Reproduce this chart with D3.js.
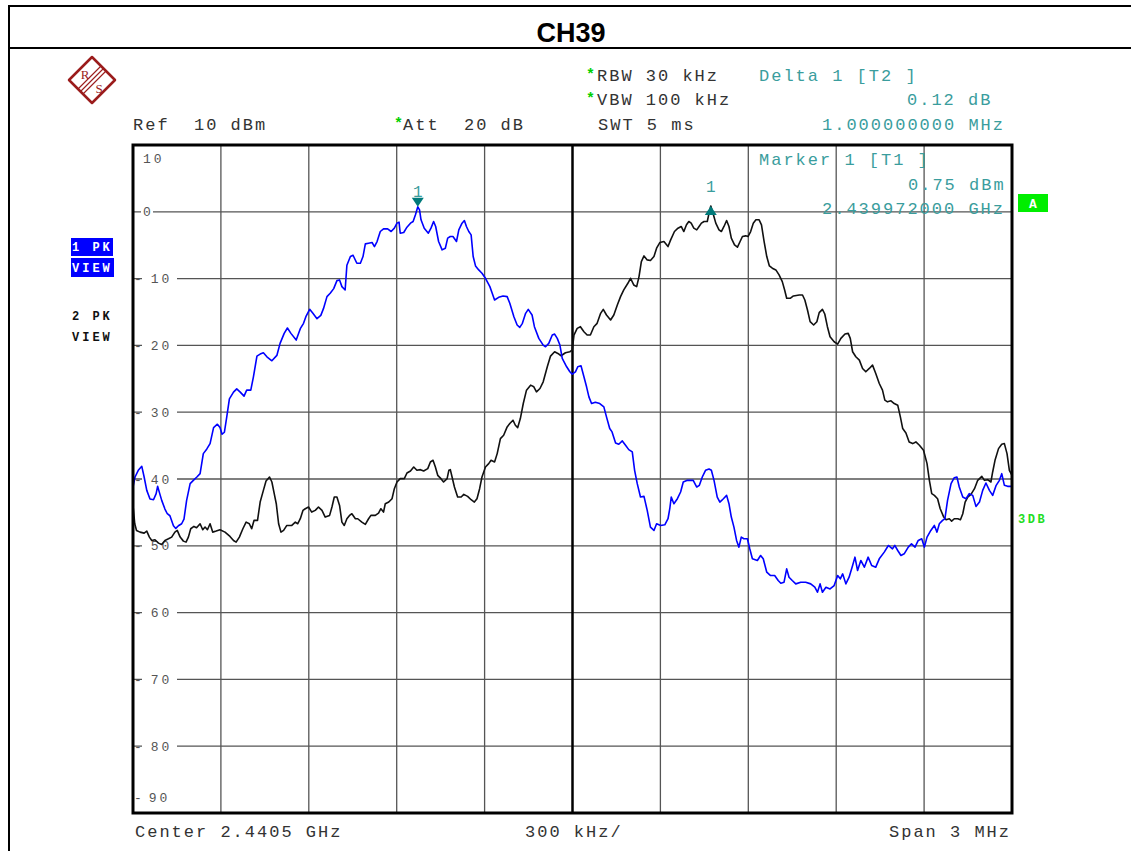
<!DOCTYPE html>
<html><head><meta charset="utf-8">
<script src="https://cdn.jsdelivr.net/npm/d3@7"></script>
<style>body{margin:0;background:#fff} text{white-space:pre}</style>
</head><body>
<svg id="c" width="1131" height="851"></svg>
<script>
// ---------- data ----------
const title = "CH39";
const levelTicks = [10, 0, -10, -20, -30, -40, -50, -60, -70, -80, -90];   // dBm
const freqGridKHz = [0, 300, 600, 900, 1200, 1500, 1800, 2100, 2400, 2700, 3000]; // offset from start (2.439 GHz)
// Trace 1 (blue), [offset kHz from 2.439 GHz, level dBm]
const traceT1 = [[0,-41.2],[7,-39.7],[18,-38.7],[30,-38.1],[38,-39.7],[47,-41.7],[58,-43.0],[70,-43.1],[79,-42.2],[84,-41.1],
[90,-42.0],[98,-43.2],[109,-44.5],[117,-45.2],[126,-45.5],[138,-47.0],[146,-47.4],[155,-47.0],[166,-46.7],[174,-46.0],
[183,-43.2],[195,-40.7],[206,-40.2],[218,-39.7],[229,-39.2],[240,-36.2],[252,-35.5],[263,-34.7],[275,-32.3],[288,-31.8],
[297,-32.3],[304,-33.3],[312,-33.0],[320,-30.7],[329,-28.0],[343,-27.0],[354,-26.5],[366,-27.0],[379,-27.6],[388,-26.7],
[402,-26.7],[411,-24.7],[423,-21.6],[434,-21.3],[445,-21.1],[457,-21.7],[474,-22.3],[491,-21.5],[502,-19.7],[516,-18.2],
[527,-17.4],[539,-18.2],[557,-19.2],[571,-17.5],[582,-16.7],[590,-15.7],[603,-14.6],[614,-15.2],[628,-16.0],[641,-15.5],
[650,-14.5],[662,-12.7],[673,-12.2],[685,-11.5],[696,-10.3],[705,-10.2],[713,-11.2],[724,-11.7],[730,-8.0],[742,-6.7],[751,-6.5],
[764,-7.7],[776,-7.7],[785,-6.7],[793,-4.8],[804,-4.7],[816,-4.6],[824,-5.2],[833,-4.45],[844,-2.95],[855,-2.55],
[869,-2.55],[881,-2.95],[892,-2.45],[901,-1.7],[908,-1.55],[912,-3.2],[924,-3.1],[935,-2.3],[947,-1.7],[956,-1.45],
[964,-0.45],[972,0.75],[978,0.3],[983,-1.2],[994,-2.45],[1008,-3.2],[1017,-2.45],[1026,-1.45],[1033,-2.2],[1043,-4.45],
[1055,-5.7],[1066,-5.45],[1074,-3.95],[1083,-3.7],[1092,-3.7],[1104,-4.45],[1112,-2.7],[1123,-1.7],[1131,-1.3],[1138,-2.2],
[1146,-2.95],[1154,-3.45],[1161,-6.7],[1169,-8.1],[1180,-8.7],[1191,-9.2],[1203,-9.95],[1218,-11.2],[1226,-12.2],[1234,-13.2],
[1248,-12.8],[1263,-12.6],[1277,-12.7],[1286,-13.7],[1300,-15.7],[1311,-16.95],[1320,-17.3],[1329,-16.7],[1340,-15.2],[1349,-14.6],
[1362,-15.45],[1370,-17.2],[1385,-18.95],[1400,-19.95],[1408,-20.2],[1419,-19.7],[1431,-18.45],[1439,-18.3],[1448,-18.95],[1457,-19.95],
[1465,-21.95],[1480,-23.2],[1491,-23.95],[1499,-24.3],[1510,-23.95],
[1518,-23.2],[1529,-23.05],[1539,-24.7],[1548,-26.2],[1556,-27.7],[1565,-28.7],[1578,-28.5],[1593,-28.7],[1607,-29.2],[1616,-30.7],
[1627,-32.45],[1635,-32.95],[1647,-34.6],[1658,-34.8],[1670,-34.3],[1681,-34.95],[1692,-35.6],[1704,-35.95],[1712,-38.7],[1721,-40.7],
[1732,-42.7],[1744,-42.6],[1755,-44.7],[1766,-47.2],[1778,-47.7],[1787,-46.7],[1801,-46.95],[1815,-46.85],[1826,-45.95],[1832,-44.45],
[1837,-42.7],[1846,-43.7],[1858,-42.95],[1869,-41.95],[1878,-40.45],[1892,-40.2],[1912,-40.2],[1924,-41.2],[1933,-40.95],[1943,-39.7],
[1954,-38.7],[1966,-38.5],[1974,-38.7],[1983,-40.2],[1994,-42.7],[2003,-43.45],[2015,-42.95],[2026,-42.45],[2034,-43.7],[2042,-45.7],
[2051,-47.2],[2060,-49.2],[2068,-50.2],[2076,-48.7],[2085,-48.95],[2097,-48.95],[2105,-50.45],[2114,-51.95],[2131,-52.2],[2142,-51.45],
[2151,-51.95],[2163,-53.95],[2176,-54.45],[2190,-54.45],[2202,-55.2],[2211,-55.6],[2222,-55.45],[2231,-53.45],[2239,-54.7],[2250,-55.2],[2262,-55.7],
[2279,-55.45],[2296,-55.45],[2313,-55.7],[2327,-56.2],[2336,-56.95],[2345,-55.7],[2353,-56.95],[2365,-56.2],[2379,-56.45],[2393,-55.95],
[2405,-54.45],[2414,-54.95],[2422,-54.2],[2433,-55.7],[2444,-54.7],[2456,-52.95],[2464,-51.7],[2473,-53.7],[2484,-52.2],[2496,-53.2],
[2509,-51.7],[2521,-52.95],[2535,-53.2],[2547,-51.95],[2564,-50.95],[2578,-49.95],[2592,-50.45],[2600,-49.95],[2610,-50.7],[2621,-51.45],
[2632,-51.2],[2646,-50.2],[2657,-49.7],[2669,-50.2],[2680,-49.2],[2692,-48.95],[2701,-50.2],[2710,-48.7],[2723,-47.7],[2735,-46.95],
[2744,-47.95],[2752,-46.7],[2763,-46.2],[2771,-45.95],[2780,-43.2],[2792,-40.7],[2803,-39.8],[2812,-39.7],[2820,-41.2],[2832,-42.7],
[2843,-42.95],[2854,-42.2],[2866,-42.45],[2877,-44.1],[2889,-43.45],[2900,-41.7],[2911,-40.6],[2923,-41.7],[2934,-42.45],[2946,-40.95],
[2957,-40.2],[2965,-39.2],[2974,-40.95],[2985,-41.1],[3000,-41.1]];
// Trace 2 (black)
const traceT2 = [[0,-43.95],[6,-46.7],[12,-47.7],[24,-47.95],[38,-48.1],[47,-47.8],[56,-48.7],[64,-49.2],[75,-49.1],[87,-49.6],
[98,-49.8],[109,-49.2],[121,-48.95],[132,-48.7],[143,-47.95],[151,-47.7],[161,-48.7],[172,-49.3],[181,-49.45],[189,-48.7],
[197,-47.45],[208,-47.1],[217,-47.3],[229,-46.7],[238,-47.6],[246,-47.2],[254,-47.6],[263,-46.7],[272,-47.95],[284,-47.8],
[297,-47.6],[314,-47.95],[331,-48.6],[343,-49.2],[352,-49.45],[363,-48.7],[375,-47.45],[386,-46.45],[397,-46.7],[405,-47.45],
[413,-46.2],[425,-46.2],[434,-43.45],[445,-41.7],[454,-40.3],[466,-39.7],[474,-40.45],[482,-42.2],[489,-43.7],[497,-46.7],
[505,-47.95],[514,-47.7],[525,-46.95],[542,-46.95],[554,-46.45],[562,-46.7],[571,-45.95],[580,-44.7],[588,-44.45],[599,-44.2],
[610,-44.95],[622,-44.7],[633,-44.2],[645,-44.7],[656,-45.7],[671,-45.45],[679,-44.2],[687,-42.7],[696,-42.7],[705,-43.95],
[713,-46.45],[721,-46.95],[730,-45.95],[739,-45.45],[747,-45.2],[759,-45.95],
[767,-45.95],[781,-46.45],[793,-46.8],[804,-45.95],[812,-45.45],[827,-45.45],[838,-45.1],[846,-44.45],[855,-44.95],[861,-43.7],
[873,-43.45],[884,-42.95],[892,-41.45],[901,-40.45],[912,-39.95],[926,-39.95],[935,-39.1],[947,-38.8],[958,-38.2],[969,-38.7],
[981,-38.6],[992,-38.8],[1006,-38.45],[1015,-37.45],[1024,-37.2],[1032,-38.2],[1040,-39.45],[1051,-39.95],[1060,-40.45],[1072,-39.95],
[1078,-38.7],[1083,-38.6],[1089,-39.7],[1097,-41.2],[1108,-42.7],[1120,-42.7],[1129,-42.3],[1142,-42.6],[1154,-43.1],[1165,-43.45],
[1174,-42.95],[1183,-41.45],[1191,-39.7],[1203,-38.2],[1214,-37.7],[1222,-37.2],[1234,-37.45],[1243,-36.2],[1254,-33.95],[1265,-33.45],
[1277,-32.2],[1286,-31.7],[1297,-31.2],[1305,-31.95],[1313,-32.3],[1322,-30.95],[1332,-28.7],[1343,-26.7],[1357,-25.95],[1368,-26.2],
[1377,-26.95],[1389,-26.45],[1400,-25.45],[1414,-23.2],[1425,-21.6],[1439,-20.95],[1450,-21.2],[1461,-21.55],[1476,-21.1],[1491,-20.95],
[1499,-20.7],[1505,-18.45],
[1516,-17.45],[1527,-17.2],[1539,-17.95],[1550,-18.45],[1561,-18.45],[1573,-17.2],[1584,-16.7],[1596,-15.2],[1605,-14.6],[1616,-15.45],
[1630,-16.2],[1641,-15.45],[1653,-13.95],[1664,-12.7],[1675,-11.7],[1689,-10.7],[1698,-9.95],[1709,-10.95],[1719,-11.2],[1727,-9.7],
[1735,-7.45],[1744,-6.6],[1755,-7.2],[1766,-7.3],[1778,-6.7],[1787,-5.45],[1798,-4.6],[1812,-4.45],[1826,-5.2],[1835,-4.2],
[1848,-2.95],[1860,-2.45],[1871,-2.2],[1880,-2.95],[1889,-1.95],[1897,-1.45],[1905,-1.7],[1914,-2.45],[1924,-2.7],[1932,-2.2],
[1940,-1.7],[1949,-1.45],[1960,-1.45],[1966,-0.2],[1972,0.87],[1981,-0.45],[1989,-1.7],[2000,-2.7],[2008,-2.95],[2017,-2.2],
[2026,-1.3],[2034,-2.2],[2042,-3.95],[2053,-4.95],[2063,-5.3],[2072,-4.45],[2080,-3.7],[2091,-3.6],[2099,-3.7],[2108,-2.95],
[2117,-1.7],[2126,-1.2],[2137,-1.2],[2145,-1.95],[2154,-4.45],[2163,-6.7],[2172,-8.1],[2182,-8.45],[2194,-8.7],[2205,-9.45],
[2216,-10.45],[2224,-11.7],[2231,-12.95],[2243,-12.95],[2254,-12.6],
[2274,-12.45],[2285,-12.45],[2293,-13.2],[2302,-14.7],[2311,-16.45],[2323,-16.95],[2334,-16.45],[2342,-15.1],[2353,-14.6],[2361,-15.3],
[2370,-17.2],[2379,-18.7],[2393,-19.45],[2405,-19.8],[2416,-18.95],[2430,-18.3],[2441,-18.2],[2448,-18.95],[2456,-20.95],[2467,-21.7],
[2479,-22.2],[2490,-23.45],[2501,-23.95],[2513,-23.45],[2524,-22.95],[2535,-24.2],[2547,-25.7],[2558,-26.7],[2566,-28.2],[2575,-28.45],
[2587,-28.3],[2598,-28.7],[2610,-28.95],[2619,-30.7],[2627,-32.45],[2638,-33.1],[2649,-34.45],[2661,-34.7],[2672,-34.45],[2684,-34.95],
[2698,-35.7],[2710,-37.7],[2718,-40.2],[2726,-42.2],[2735,-42.45],[2746,-42.95],[2755,-44.45],[2767,-45.7],[2775,-46.1],[2786,-45.95],
[2794,-46.3],[2803,-45.95],[2815,-45.95],[2824,-46.1],[2832,-45.2],[2840,-43.45],[2849,-42.7],[2860,-42.3],[2872,-41.45],[2883,-40.2],
[2897,-39.6],[2906,-40.2],[2917,-40.1],[2928,-40.45],[2934,-38.95],[2942,-37.2],[2954,-35.45],[2965,-34.8],[2974,-34.7],[2983,-36.2],
[2991,-38.7],[3000,-39.45]];
const markerFreqKHz = [972, 1972];
const markerLevel = [0.75, 0.87];
const markerDir = ["down", "up"];
const settingsLeft = ["RBW 30 kHz", "VBW 100 kHz", "SWT 5 ms"];
const settingsStar = [true, true, false];
const deltaInfo = ["Delta 1 [T2 ]", "0.12 dB", "1.000000000 MHz"];
const markerInfo = ["Marker 1 [T1 ]", "0.75 dBm", "2.439972000 GHz"];
const bottomLabels = ["Center 2.4405 GHz", "300 kHz/", "Span 3 MHz"];

// ---------- drawing ----------
const svg = d3.select("#c");
const L = 133, R = 1012, T = 145, B = 813;
const x = d3.scaleLinear().domain([0, 3000]).range([L, R]);
const y = d3.scaleLinear().domain([-90, 10]).range([B, T]);
const MONO = "'Liberation Mono', 'DejaVu Sans Mono', monospace";
const teal = "#3a9d9d";

// outer frame
svg.append("line").attr("x1", 9).attr("x2", 1131).attr("y1", 6).attr("y2", 6).attr("stroke", "#000").attr("stroke-width", 2);
svg.append("line").attr("x1", 9).attr("x2", 1131).attr("y1", 48).attr("y2", 48).attr("stroke", "#000").attr("stroke-width", 2);
svg.append("line").attr("x1", 9).attr("x2", 9).attr("y1", 5).attr("y2", 851).attr("stroke", "#000").attr("stroke-width", 2);
svg.append("text").attr("x", 571).attr("y", 42).attr("text-anchor", "middle")
  .attr("font-family", "'Liberation Sans', Arial, sans-serif").attr("font-weight", "bold").attr("font-size", 27).text(title);

// logo
const lg = svg.append("g").attr("transform", "translate(92,80)");
lg.append("path").attr("d", "M0,-23L23,0L0,23L-23,0Z").attr("fill", "#fff").attr("stroke", "#9b1c1c").attr("stroke-width", 2.5).attr("stroke-linejoin", "round");
[-2.5, 0, 2.5].forEach(o => lg.append("line").attr("x1", 11.5 + o).attr("y1", -11.5 + o).attr("x2", -11.5 + o).attr("y2", 11.5 + o)
  .attr("stroke", "#9b1c1c").attr("stroke-width", 1.1));
lg.append("text").attr("x", -7).attr("y", -1).attr("text-anchor", "middle").attr("font-family", "'Liberation Serif', serif").attr("font-size", 13).attr("fill", "#9b1c1c").text("R");
lg.append("text").attr("x", 7).attr("y", 13).attr("text-anchor", "middle").attr("font-family", "'Liberation Serif', serif").attr("font-size", 13).attr("fill", "#9b1c1c").text("S");

// header texts
function mono(xp, yp, s, fill, opts = {}) {
  return svg.append("text").attr("x", xp).attr("y", yp).attr("font-family", MONO)
    .attr("font-size", opts.size || 17).attr("letter-spacing", opts.ls !== undefined ? opts.ls : 2)
    .attr("font-weight", opts.weight || "normal").attr("fill", fill).text(s);
}
function star(xp, yp) {
  svg.append("text").attr("x", xp).attr("y", yp).attr("font-family", MONO).attr("font-size", 15).attr("font-weight", "bold").attr("fill", "#00d000").text("*");
}
const rowY = [81, 105, 130];
settingsLeft.forEach((s, i) => {
  if (settingsStar[i]) star(586, rowY[i] - 2);
  mono(i === 2 ? 598 : 597, rowY[i], s, "#333");
});
mono(133, 130, "Ref  10 dBm", "#333");
star(394, 128);
mono(403, 130, "Att  20 dB", "#333");
mono(759, rowY[0], deltaInfo[0], teal);
mono(907, rowY[1], deltaInfo[1], teal);
mono(822, rowY[2], deltaInfo[2], teal);

// grid
const grid = svg.append("g");
grid.selectAll("line.h").data(levelTicks).join("line").attr("class", "h")
  .attr("x1", L).attr("x2", R).attr("y1", d => y(d)).attr("y2", d => y(d))
  .attr("stroke", "#555").attr("stroke-width", 1.3);
grid.selectAll("line.v").data(freqGridKHz).join("line").attr("class", "v")
  .attr("x1", d => x(d)).attr("x2", d => x(d)).attr("y1", T).attr("y2", B)
  .attr("stroke", d => d === 1500 ? "#000" : "#555").attr("stroke-width", d => d === 1500 ? 2.5 : 1.3);

// level labels
levelTicks.forEach(v => {
  const s = String(v);
  if (v === 10 || v === -90) {
    const yy = v === 10 ? 163 : 802;
    const t = svg.append("text").attr("x", v === 10 ? 143 : 134).attr("y", yy).attr("font-family", MONO)
      .attr("font-size", 13).attr("letter-spacing", 3).attr("fill", "#555");
    if (v === 10) t.text(s);
    else { t.text("-"); t.append("tspan").attr("dx", 4).text(s.slice(1)); }
    return;
  }
  const yy = y(v);
  if (v === 0) {
    svg.append("rect").attr("x", 141).attr("y", yy - 3).attr("width", 12).attr("height", 6).attr("fill", "#fff");
    svg.append("text").attr("x", 143).attr("y", yy + 4.5).attr("font-family", MONO).attr("font-size", 13).attr("fill", "#555").text("0");
  } else {
    svg.append("rect").attr("x", 142).attr("y", yy - 3).attr("width", 35).attr("height", 6).attr("fill", "#fff");
    const t = svg.append("text").attr("x", 134).attr("y", yy + 4.5).attr("font-family", MONO).attr("font-size", 13)
      .attr("letter-spacing", 3).attr("fill", "#555").text("-");
    t.append("tspan").attr("dx", 6).text(s.slice(1));
  }
});

// traces
svg.append("clipPath").attr("id", "clip").append("rect").attr("x", L).attr("y", T).attr("width", R - L).attr("height", B - T);
const line = d3.line().x(d => x(d[0])).y(d => y(d[1]));
const tr = svg.append("g").attr("clip-path", "url(#clip)");
tr.append("path").attr("d", line(traceT2)).attr("fill", "none").attr("stroke", "#111").attr("stroke-width", 1.6).attr("stroke-linejoin", "round");
tr.append("path").attr("d", line(traceT1)).attr("fill", "none").attr("stroke", "#0000ff").attr("stroke-width", 1.6).attr("stroke-linejoin", "round");

// frame
svg.append("rect").attr("x", L).attr("y", T).attr("width", R - L).attr("height", B - T).attr("fill", "none").attr("stroke", "#000").attr("stroke-width", 3);

// marker info
mono(759, 165, markerInfo[0], teal);
mono(908, 190, markerInfo[1], teal);
mono(822, 214, markerInfo[2], teal);

// markers
markerFreqKHz.forEach((f, i) => {
  const mx = x(f), my = y(markerLevel[i]);
  if (markerDir[i] === "down") {
    svg.append("path").attr("d", `M${mx - 6},${my - 9}L${mx + 6},${my - 9}L${mx},${my}Z`).attr("fill", "#007a7a");
  } else {
    svg.append("path").attr("d", `M${mx - 6},${my + 9}L${mx + 6},${my + 9}L${mx},${my}Z`).attr("fill", "#007a7a");
  }
  svg.append("text").attr("x", mx).attr("y", markerDir[i] === "down" ? my - 10 : my - 14).attr("text-anchor", "middle")
    .attr("font-family", MONO).attr("font-size", 16).attr("fill", teal).text("1");
});

// side labels
svg.append("rect").attr("x", 1018).attr("y", 194).attr("width", 30).attr("height", 18).attr("fill", "#00ee00");
svg.append("text").attr("x", 1033).attr("y", 208).attr("text-anchor", "middle").attr("font-family", MONO).attr("font-weight", "bold").attr("font-size", 13).attr("fill", "#fff").text("A");
mono(1018, 523, "3DB", "#22dd22", { size: 12, ls: 2.5, weight: "bold" });
svg.append("rect").attr("x", 71).attr("y", 238).attr("width", 42).attr("height", 18).attr("fill", "#0000ff");
svg.append("rect").attr("x", 71).attr("y", 258).attr("width", 43).attr("height", 19).attr("fill", "#0000ff");
mono(72, 251, "1 PK", "#fff", { size: 12, ls: 3, weight: "bold" });
mono(72, 272, "VIEW", "#fff", { size: 12, ls: 3, weight: "bold" });
mono(72, 320, "2 PK", "#111", { size: 12, ls: 3, weight: "bold" });
mono(72, 341, "VIEW", "#111", { size: 12, ls: 3, weight: "bold" });

// bottom
mono(135, 837, bottomLabels[0], "#333");
mono(525, 837, bottomLabels[1], "#333");
mono(889, 837, bottomLabels[2], "#333");
</script>
</body></html>
